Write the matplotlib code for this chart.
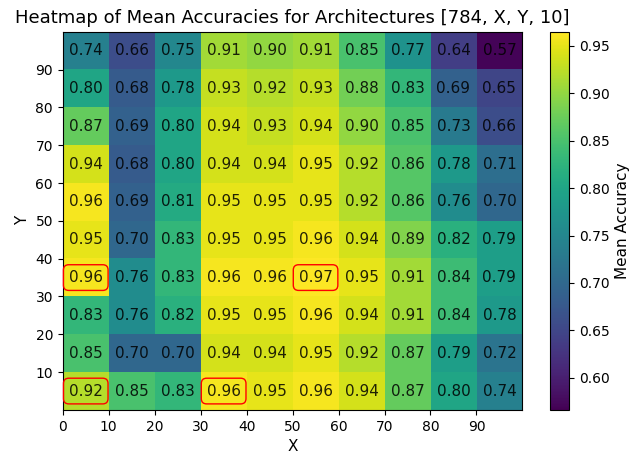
import numpy as np
import matplotlib
matplotlib.use("Agg")
import matplotlib.pyplot as plt

# grid coordinates (hidden layer sizes)
x_vals = [0, 10, 20, 30, 40, 50, 60, 70, 80, 90]
y_vals = [0, 10, 20, 30, 40, 50, 60, 70, 80, 90]

# rows listed from y=0 (bottom) up to y=90 (top)
acc = np.array([
    [0.92, 0.85, 0.83, 0.96, 0.95, 0.96, 0.94, 0.87, 0.80, 0.74],
    [0.85, 0.70, 0.70, 0.94, 0.94, 0.95, 0.92, 0.87, 0.79, 0.72],
    [0.83, 0.76, 0.82, 0.95, 0.95, 0.96, 0.94, 0.91, 0.84, 0.78],
    [0.96, 0.76, 0.83, 0.96, 0.96, 0.97, 0.95, 0.91, 0.84, 0.79],
    [0.95, 0.70, 0.83, 0.95, 0.95, 0.96, 0.94, 0.89, 0.82, 0.79],
    [0.96, 0.69, 0.81, 0.95, 0.95, 0.95, 0.92, 0.86, 0.76, 0.70],
    [0.94, 0.68, 0.80, 0.94, 0.94, 0.95, 0.92, 0.86, 0.78, 0.71],
    [0.87, 0.69, 0.80, 0.94, 0.93, 0.94, 0.90, 0.85, 0.73, 0.66],
    [0.80, 0.68, 0.78, 0.93, 0.92, 0.93, 0.88, 0.83, 0.69, 0.65],
    [0.74, 0.66, 0.75, 0.91, 0.90, 0.91, 0.85, 0.77, 0.64, 0.57],
])

# (row, col) cells that are highlighted
highlight = [(0, 0), (0, 3), (3, 0), (3, 5)]

fig = plt.figure(figsize=(6.34, 4.53), dpi=100)
ax = fig.add_axes([0.099, 0.095, 0.725, 0.835])
cax = fig.add_axes([0.867, 0.095, 0.031, 0.835])

step = 10
im = ax.imshow(acc, origin="lower", cmap="viridis", aspect="auto",
               extent=[x_vals[0], x_vals[-1] + step, y_vals[0], y_vals[-1] + step],
               vmin=0.566, vmax=0.965)

for i, yv in enumerate(y_vals):
    for j, xv in enumerate(x_vals):
        kw = {}
        if (i, j) in highlight:
            kw["bbox"] = dict(boxstyle="round,pad=0.35", edgecolor="red",
                              facecolor="none", linewidth=1.0)
        ax.text(xv + step / 2, yv + step / 2, f"{acc[i, j]:.2f}",
                ha="center", va="center", fontsize=11, color="black", alpha=0.85, **kw)

ax.set_xticks(x_vals)
ax.set_yticks(y_vals[1:])
ax.set_xlabel("X", fontsize=11)
ax.set_ylabel("Y", fontsize=11)
ax.set_title("Heatmap of Mean Accuracies for Architectures [784, X, Y, 10]", fontsize=13)

cb = fig.colorbar(im, cax=cax)
cb.set_label("Mean Accuracy", fontsize=11)

fig.savefig("out.png", dpi=100)
